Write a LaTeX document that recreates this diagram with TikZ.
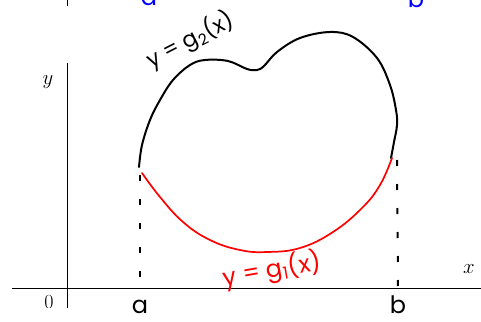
\documentclass[tikz,border=0pt]{standalone}
\usepackage{fontspec}
\newfontfamily\handfont{Poppins}
\usetikzlibrary{positioning}

\begin{document}
\begin{tikzpicture}[
    x=1pt, y=-1pt,
    axis/.style={black, line width=0.7pt},
    upper/.style={black, line width=2pt, line cap=round, line join=round},
    lower/.style={red, line width=1.7pt, line cap=round, line join=round},
    guide/.style={black, line width=2pt, dash pattern=on 6pt off 18pt},
    hand/.style={font=\handfont\fontsize{24}{28}\selectfont, inner sep=0pt},
    axlab/.style={font=\fontsize{20}{24}\selectfont, inner sep=0pt}
]

\useasboundingbox (0,0) rectangle (481,321);

% Axes (clipped like the original plot)
\begin{scope}
\clip (0,0) rectangle (481,307);
\coordinate (origin) at (67,288);
\draw[axis] (12,288) -- (481,288);
\draw[axis] (67,63) -- (67,321);
\draw[axis] (67,0) -- (67,6);
\node[axlab, anchor=north] (zero) at (49,295) {0};
\end{scope}
\node[axlab] (ylab) at (48,82) {$y$};
\node[axlab] (xlab) at (469,269) {$x$};

% Points a and b on the axis
\coordinate (a0) at (140,288);
\coordinate (b0) at (398,288);
\coordinate (atop) at (140,175);
\coordinate (btop) at (397,160);
\node[hand, below=12pt of a0] (alab) {a};
\node[hand, below=8pt of b0] (blab) {b};

% Cut-off blue letters at the top
\node[hand, blue, anchor=base] (ablue) at (149,6) {a};
\node[hand, blue, anchor=base] (bblue) at (416,8) {b};

% Vertical guides
\draw[guide] (atop) -- (a0);
\draw[guide] (btop) -- (b0);

% Upper boundary g2
\draw[upper] plot[smooth, tension=0.6] coordinates {
    (139,167) (142,145) (150,120) (160,100) (173,80) (190,65) (205,60)
    (228,61) (247,69) (257,70) (264,66) (277,52) (300,38) (330,32)
    (353,37) (377,58) (390,85) (396,110) (397,125) (394,142) (391,158)};

% Lower boundary g1
\draw[lower] plot[smooth, tension=0.7] coordinates {
    (142,173) (160,197) (183,222) (210,240) (240,250) (267,252) (300,248)
    (333,232) (362,208) (380,185) (392,158)};

% Curve labels
\node[hand, rotate=27, font=\handfont\fontsize{22}{26}\selectfont] (g2lab) at (190,40) {y = g\textsubscript{2}(x)};
\node[hand, red, rotate=10] (g1lab) at (272,270) {y = g\textsubscript{1}(x)};

\end{tikzpicture}
\end{document}
